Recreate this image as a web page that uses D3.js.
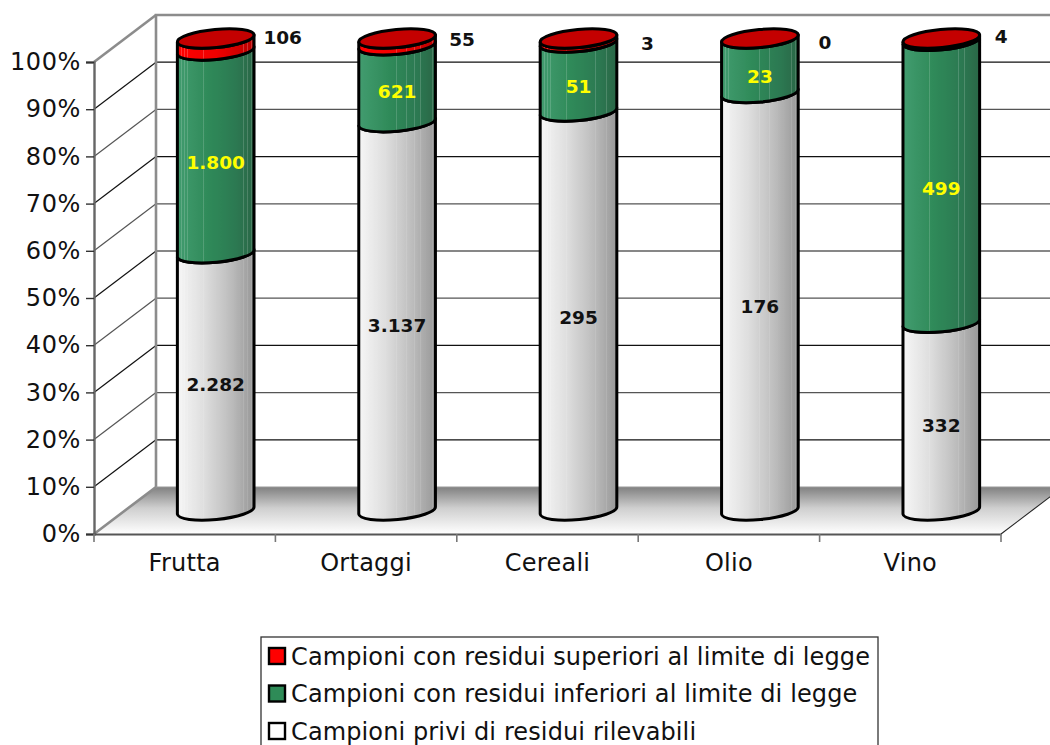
<!DOCTYPE html>
<html>
<head>
<meta charset="utf-8">
<script src="https://cdn.jsdelivr.net/npm/d3@7"></script>
<style>
  html, body { margin: 0; padding: 0; background: #fff; overflow: hidden; }
  svg { display: block; font-family: "DejaVu Sans", sans-serif; }
</style>
</head>
<body>
<svg id="chart" width="1050" height="745"></svg>
<script>
// Sample counts per product group
const categories = ["Frutta", "Ortaggi", "Cereali", "Olio", "Vino"];
const clean = [2282, 3137, 295, 176, 332];
const belowLimit = [1800, 621, 51, 23, 499];
const aboveLimit = [106, 55, 3, 0, 4];
const axisTicks = [0, 0.1, 0.2, 0.3, 0.4, 0.5, 0.6, 0.7, 0.8, 0.9, 1];
const legendLabels = [
  "Campioni con residui superiori al limite di legge",
  "Campioni con residui inferiori al limite di legge",
  "Campioni privi di residui rilevabili"
];
const numberLabel = d3.formatLocale({ decimal: ",", thousands: ".", grouping: [3], currency: ["", ""] }).format(",d");

// Small hand adjustments for value labels sitting off the segment centres
const cleanNudge = [2, 9, 6, 5, 9];
const belowNudge = [10, 8, 9, 11, 7];
const aboveNudgeX = [67, 65, 69, 65, 60];
const aboveNudgeY = [-1.5, 0.5, 5, 3.5, -2.5];

// Layout of the pseudo-3D box
const svg = d3.select("#chart");
const W = 1050;
const depthX = 62, depthY = -47;
const x = d3.scaleBand().domain(categories).range([94, 1001]);
const y = d3.scaleLinear().domain([0, 1]).range([534, 62]);
const barY = d3.scaleLinear().domain([0, 1]).range([510.5, 38.5]);
const barRx = 38.5, barRy = 9, tilt = -5.5;

const defs = svg.append("defs");

// Horizontal cylinder shading: a ramp broken by thin lighter bands
const stripeOffsets = [0.05, 0.09, 0.13, 0.34, 0.49, 0.62, 0.72, 0.8, 0.86, 0.91, 0.96];
function cylinderGradient(id, ramp, stripe) {
  const g = defs.append("linearGradient").attr("id", id);
  const col = d3.scaleLinear().domain(ramp.map(r => r[0])).range(ramp.map(r => r[1]));
  const pts = [];
  d3.range(0, 1.0001, 0.02).forEach(t => pts.push({ t, c: col(t) }));
  stripeOffsets.forEach(s => {
    const base = col(s);
    const light = d3.interpolateRgb(base, "#fff")(stripe);
    pts.push({ t: s - 0.0001, c: base }, { t: s, c: light }, { t: s + 0.007, c: light }, { t: s + 0.0071, c: base });
  });
  pts.sort((a, b) => a.t - b.t).forEach(p => g.append("stop").attr("offset", p.t).attr("stop-color", p.c));
}
cylinderGradient("shadeClean", [[0, "#f6f6f6"], [0.35, "#dedede"], [0.7, "#bcbcbc"], [1, "#989898"]], 0.1);
cylinderGradient("shadeBelow", [[0, "#429c6f"], [0.4, "#2f8a59"], [0.75, "#2c7a52"], [1, "#2a6646"]], 0.16);
cylinderGradient("shadeAbove", [[0, "#ff0000"], [0.5, "#f00000"], [1, "#b80000"]], 0.2);

const floorGrad = defs.append("linearGradient").attr("id", "floorShade")
  .attr("x1", 0).attr("x2", 0).attr("y1", 0).attr("y2", 1);
floorGrad.append("stop").attr("offset", 0).attr("stop-color", "#808080");
floorGrad.append("stop").attr("offset", 0.45).attr("stop-color", "#cfcfcf");
floorGrad.append("stop").attr("offset", 1).attr("stop-color", "#fff");

// Floor of the box
const xL = x.range()[0], xR = x.range()[1];
const y0 = y(0), y1 = y(1);
svg.append("polygon")
  .attr("points", [[xL, y0], [xL + depthX, y0 + depthY], [xR + depthX, y0 + depthY], [xR, y0]].join(" "))
  .attr("fill", "url(#floorShade)");

// Gridlines along the side wall and the back wall
const grid = svg.append("g");
axisTicks.slice(1).forEach(t => {
  const yy = y(t);
  const col = t === 1 ? "none" : (Math.round(t * 10) % 2 ? "#111" : "#555");
  grid.append("line").attr("x1", xL).attr("y1", yy).attr("x2", xL + depthX).attr("y2", yy + depthY)
    .attr("stroke", col).attr("stroke-width", 1.2);
  grid.append("line").attr("x1", xL + depthX).attr("y1", yy + depthY).attr("x2", W).attr("y2", yy + depthY)
    .attr("stroke", col).attr("stroke-width", 1.2);
});

// Gray frame of the box walls
const frame = "#8c8c8c";
svg.append("polyline")
  .attr("points", [[xL, y0], [xL + depthX, y0 + depthY], [xL + depthX, y1 + depthY], [W, y1 + depthY]].join(" "))
  .attr("fill", "none").attr("stroke", frame).attr("stroke-width", 2.6);
svg.append("line").attr("x1", xL + depthX).attr("y1", y0 + depthY).attr("x2", W).attr("y2", y0 + depthY)
  .attr("stroke", "#9a9a9a").attr("stroke-width", 1.2);
svg.append("line").attr("x1", xL).attr("y1", y1).attr("x2", xL + depthX).attr("y2", y1 + depthY)
  .attr("stroke", frame).attr("stroke-width", 2.6);
svg.append("line").attr("x1", xR).attr("y1", y0).attr("x2", xR + depthX).attr("y2", y0 + depthY)
  .attr("stroke", "#222").attr("stroke-width", 1.1);

// Percentage axis
const yAxis = svg.append("g").attr("transform", `translate(${xL},0)`)
  .call(d3.axisLeft(y).tickValues(axisTicks).tickFormat(d3.format(".0%")).tickSize(8).tickPadding(5));
yAxis.select(".domain").attr("stroke", "#666").attr("stroke-width", 2.4);
yAxis.selectAll(".tick line").attr("stroke", "#333").attr("stroke-width", 1.4);
yAxis.selectAll("text").attr("font-size", 24).attr("letter-spacing", 0.6).attr("fill", "#111")
  .attr("font-family", "DejaVu Sans");

// Category axis with ticks between the groups
const xAxis = svg.append("g").attr("transform", `translate(0,${y0})`)
  .call(d3.axisBottom(x).tickSize(0).tickPadding(20));
xAxis.select(".domain").attr("stroke", "#555").attr("stroke-width", 2.2);
xAxis.selectAll("text").attr("font-size", 24).attr("letter-spacing", 0.25).attr("fill", "#111")
  .attr("font-family", "DejaVu Sans");
d3.range(categories.length + 1).forEach(i => {
  const tx = xL + i * x.step();
  xAxis.append("line").attr("x1", tx).attr("x2", tx).attr("y1", 0).attr("y2", 8)
    .attr("stroke", "#777").attr("stroke-width", 1.6);
});

// One cylinder segment between two fractions of the stack
function ends(cx, cy) {
  const a = tilt * Math.PI / 180;
  const dx = barRx * Math.cos(a), dy = barRx * Math.sin(a);
  return { lx: cx - dx, ly: cy - dy, rx: cx + dx, ry: cy + dy };
}
function segmentPath(cx, from, to) {
  const b = ends(cx, barY(from)), t = ends(cx, barY(to));
  return `M${b.lx},${b.ly}A${barRx},${barRy} ${tilt} 0 0 ${b.rx},${b.ry}` +
    `L${t.rx},${t.ry}A${barRx},${barRy} ${tilt} 0 1 ${t.lx},${t.ly}Z`;
}

const series = [
  { values: clean, fill: "url(#shadeClean)", text: "#111" },
  { values: belowLimit, fill: "url(#shadeBelow)", text: "#ffff00" },
  { values: aboveLimit, fill: "url(#shadeAbove)", text: "#111" }
];

const labelLayer = [];
categories.forEach((cat, i) => {
  const cx = x(cat) + x.bandwidth() / 2 + depthX / 2;
  const total = series.reduce((s, d) => s + d.values[i], 0);
  const g = svg.append("g");
  let acc = 0;
  series.forEach((s, k) => {
    const v = s.values[i];
    const from = acc / total, to = (acc + v) / total;
    acc += v;
    if (v > 0) {
      g.append("path").attr("d", segmentPath(cx, from, to))
        .attr("fill", s.fill).attr("stroke", "#000").attr("stroke-width", 3).attr("stroke-linejoin", "round");
    }
    if (k < 2) {
      const nudge = k === 0 ? cleanNudge[i] : belowNudge[i];
      labelLayer.push({ x: cx, y: barY((from + to) / 2) + nudge, text: numberLabel(v), fill: s.text });
    } else {
      labelLayer.push({ x: cx + aboveNudgeX[i], y: barY(1) + aboveNudgeY[i], text: numberLabel(v), fill: s.text });
    }
  });
  g.append("ellipse").attr("cx", cx).attr("cy", barY(1)).attr("rx", barRx).attr("ry", barRy)
    .attr("transform", `rotate(${tilt} ${cx} ${barY(1)})`)
    .attr("fill", "#c40000").attr("stroke", "#000").attr("stroke-width", 3);
});

// Value labels on top of the cylinders
svg.append("g").selectAll("text").data(labelLayer).join("text")
  .attr("x", d => d.x).attr("y", d => d.y).attr("dy", "0.36em")
  .attr("text-anchor", "middle").attr("font-size", 18.5).attr("font-weight", "bold")
  .attr("fill", d => d.fill).text(d => d.text);

// Legend box, running past the lower edge
const legend = svg.append("g");
legend.append("rect").attr("x", 261).attr("y", 637).attr("width", 617).attr("height", 130)
  .attr("fill", "#fff").attr("stroke", "#333").attr("stroke-width", 1.3);
const swatches = ["#ff0000", "#2e8b57", "#ffffff"];
const rows = d3.scalePoint().domain(d3.range(3)).range([656, 731]);
legendLabels.forEach((label, i) => {
  legend.append("rect").attr("x", 269).attr("y", rows(i) - 8).attr("width", 16).attr("height", 16)
    .attr("fill", swatches[i]).attr("stroke", "#000").attr("stroke-width", 2.4);
  legend.append("text").attr("x", 291).attr("y", rows(i)).attr("dy", "0.36em")
    .attr("font-size", 24).attr("letter-spacing", 0.12).attr("fill", "#111").text(label);
});
</script>
</body>
</html>
